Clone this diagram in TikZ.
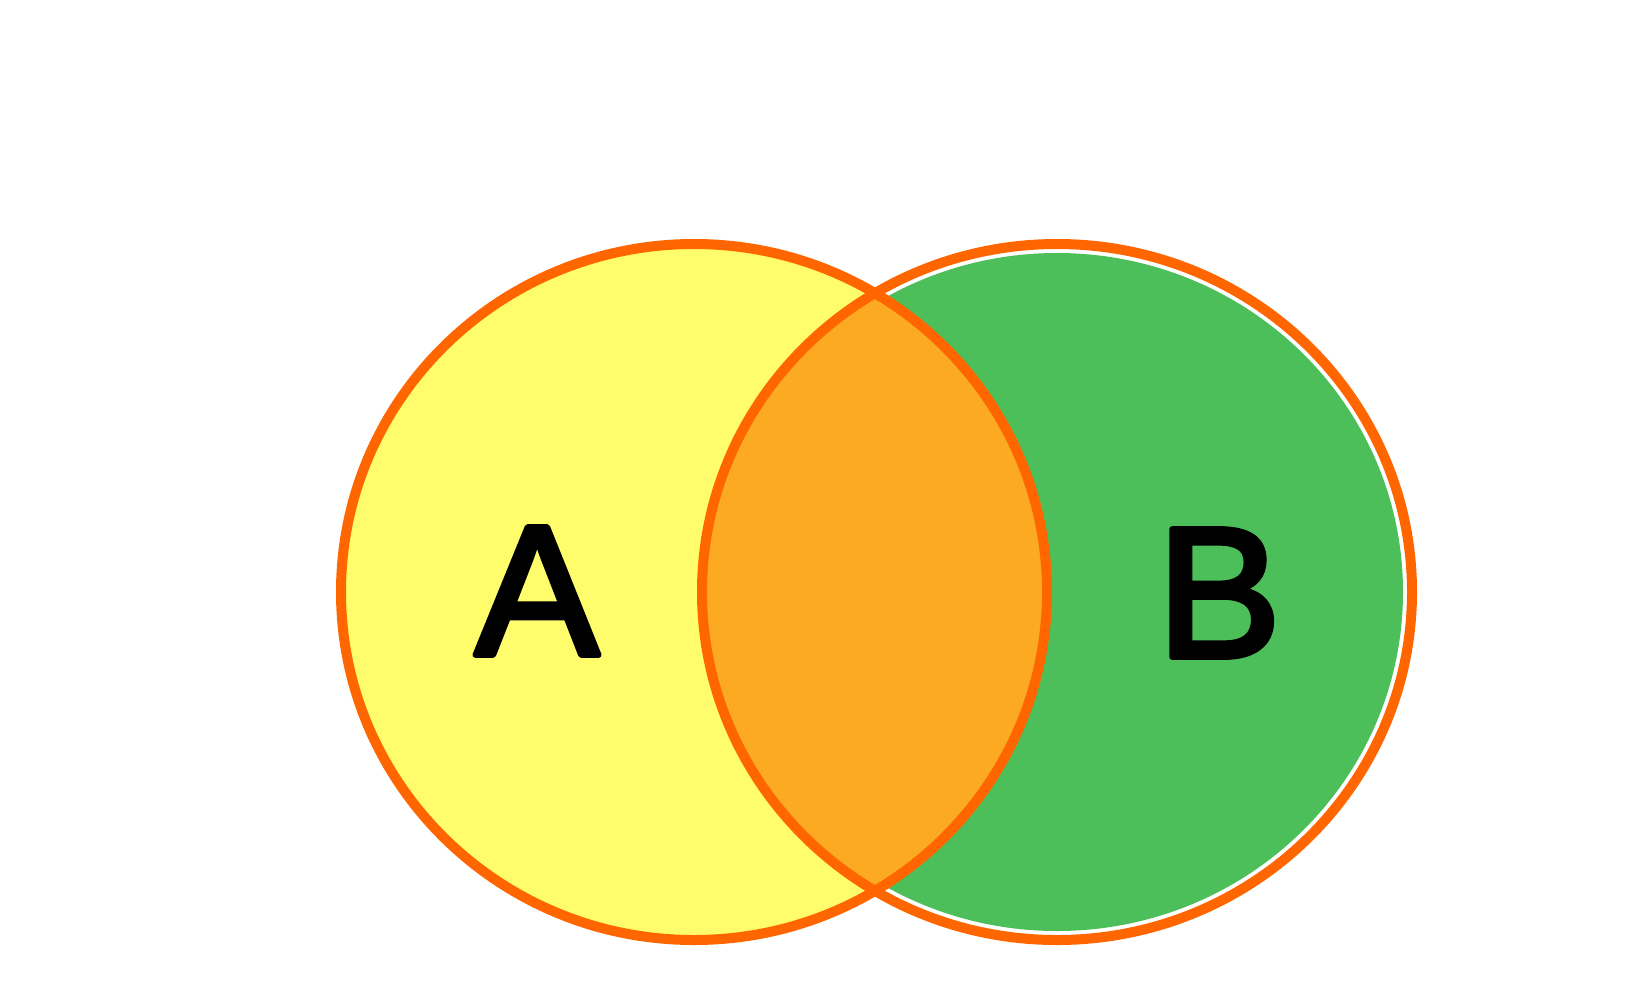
\documentclass[tikz,border=0pt]{standalone}
\usepackage{fontspec}
\setmainfont{Liberation Sans}
\newfontfamily\labelfont[FakeBold=3]{Liberation Sans}
\usetikzlibrary{positioning}
\definecolor{vennyellow}{HTML}{FFFD6B}
\definecolor{venngreen}{HTML}{4CBF5A}
\definecolor{vennorange}{HTML}{FCAA22}
\definecolor{vennline}{HTML}{FF6600}
\tikzset{
    every picture/.style={line cap=round,line join=round},
    setborder/.style={draw=vennline,line width=1.0mm},
    setlabel/.style={font=\labelfont\fontsize{53}{60}\selectfont,text=black,inner sep=0pt}
}
\begin{document}
\begin{tikzpicture}[x=0.1mm,y=-0.1mm]
  \useasboundingbox (0,0) rectangle (1646,1006);
  \coordinate (cA) at (694,592);
  \coordinate (cB) at (1057,592);
  % the two sets
  \fill[vennyellow] (cA) ellipse [x radius=353,y radius=348];
  \fill[venngreen] (cB) ellipse [x radius=346,y radius=339];
  % overlap
  \begin{scope}
    \clip (cA) ellipse [x radius=353,y radius=348];
    \fill[vennorange] (cB) ellipse [x radius=355,y radius=348];
  \end{scope}
  \draw[setborder] (cA) ellipse [x radius=353,y radius=348];
  \draw[setborder] (cB) ellipse [x radius=355,y radius=348];
  \node[setlabel] (labA) at (537,591) {A};
  \node[setlabel] (labB) at (1219,593) {B};
\end{tikzpicture}
\end{document}
